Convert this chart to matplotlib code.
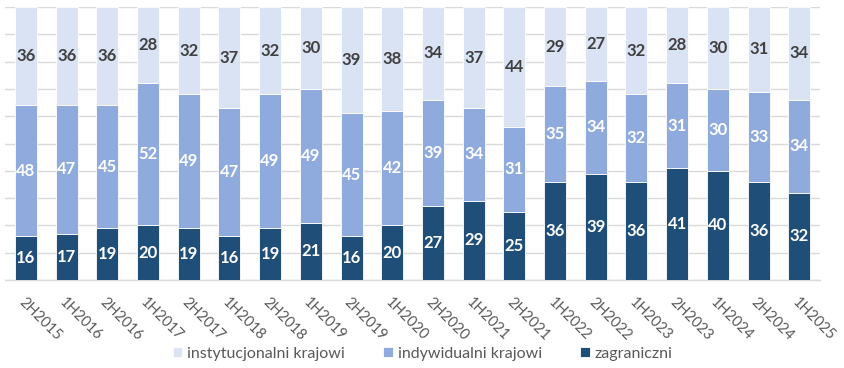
import numpy as np
import matplotlib.pyplot as plt

periods = ['2H2015', '1H2016', '2H2016', '1H2017', '2H2017', '1H2018', '2H2018',
           '1H2019', '2H2019', '1H2020', '2H2020', '1H2021', '2H2021', '1H2022',
           '2H2022', '1H2023', '2H2023', '1H2024', '2H2024', '1H2025']
zagraniczni = [16, 17, 19, 20, 19, 16, 19, 21, 16, 20, 27, 29, 25, 36, 39, 36, 41, 40, 36, 32]
indywidualni = [48, 47, 45, 52, 49, 47, 49, 49, 45, 42, 39, 34, 31, 35, 34, 32, 31, 30, 33, 34]
instytucjonalni = [36, 36, 36, 28, 32, 37, 32, 30, 39, 38, 34, 37, 44, 29, 27, 32, 28, 30, 31, 34]

plt.rcParams['font.family'] = ['Lato', 'DejaVu Sans']

fig = plt.figure(figsize=(8.45, 3.68), dpi=100)
ax = fig.add_axes([0.0065, 0.239, 0.9635, 0.742])

x = np.arange(len(periods))
w = 0.54
c_zag = '#1F4E79'
c_ind = '#8FAADC'
c_ins = '#DAE3F3'

b1 = ax.bar(x, zagraniczni, w, color=c_zag, edgecolor='white', linewidth=0.6,
            label='zagraniczni', zorder=3)
bottom2 = np.array(zagraniczni)
b2 = ax.bar(x, indywidualni, w, bottom=bottom2, color=c_ind, edgecolor='white',
            linewidth=0.6, label='indywidualni krajowi', zorder=3)
bottom3 = bottom2 + np.array(indywidualni)
b3 = ax.bar(x, instytucjonalni, w, bottom=bottom3, color=c_ins, edgecolor='white',
            linewidth=0.6, label='instytucjonalni krajowi', zorder=3)

ax.bar_label(b1, label_type='center', color='white', fontsize=12, fontweight='bold')
ax.bar_label(b2, label_type='center', color='white', fontsize=12, fontweight='bold')
ax.bar_label(b3, label_type='center', color='#404040', fontsize=12, fontweight='bold')

ax.set_xlim(-0.5, len(periods) - 0.5)
ax.set_ylim(0, 100)
ax.set_yticks(np.arange(0, 101, 10))
ax.yaxis.grid(True, color='#D9D9D9', linewidth=1, zorder=0)
ax.set_yticklabels([])
ax.tick_params(axis='y', length=0)
for s in ['top', 'right', 'left']:
    ax.spines[s].set_visible(False)
ax.spines['bottom'].set_color('#D9D9D9')
ax.spines['bottom'].set_linewidth(1)

ax.set_xticks(x)
ax.set_xticklabels(periods, rotation=-45, ha='left', va='top', rotation_mode='anchor',
                   fontsize=10.5, color='#595959')
ax.tick_params(axis='x', length=0, pad=11)

handles = [b3, b2, b1]
leg = fig.legend(handles, [h.get_label() for h in handles], loc='lower center',
                 bbox_to_anchor=(0.5, -0.02), ncol=3, frameon=False, fontsize=11.5,
                 handlelength=0.6, handleheight=0.6, handletextpad=0.3, columnspacing=2.4)
for t in leg.get_texts():
    t.set_color('#595959')

fig.savefig('out.png', dpi=100)
